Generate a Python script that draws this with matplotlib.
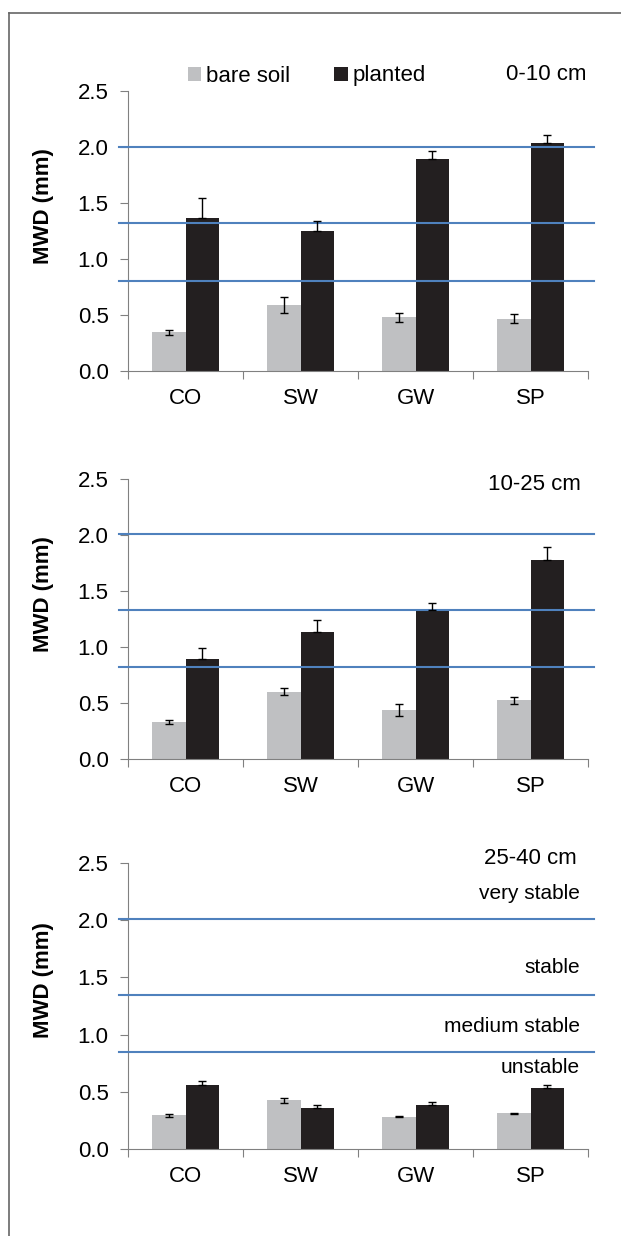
import numpy as np
import matplotlib

matplotlib.use("Agg")
import matplotlib.pyplot as plt
from matplotlib.lines import Line2D

plt.rcParams["font.family"] = ["Liberation Sans", "DejaVu Sans"]

# --- data ---
sites = ["CO", "SW", "GW", "SP"]
depths = ["0-10 cm", "10-25 cm", "25-40 cm"]

bare_mean = [
    [0.345, 0.59, 0.48, 0.465],
    [0.33, 0.60, 0.435, 0.525],
    [0.294, 0.425, 0.282, 0.311],
]
bare_err = [
    [0.02, 0.07, 0.04, 0.04],
    [0.02, 0.03, 0.055, 0.03],
    [0.012, 0.025, 0.004, 0.004],
]
planted_mean = [
    [1.365, 1.25, 1.89, 2.04],
    [0.895, 1.13, 1.33, 1.78],
    [0.56, 0.355, 0.387, 0.533],
]
planted_err = [
    [0.18, 0.09, 0.07, 0.07],
    [0.095, 0.11, 0.06, 0.11],
    [0.032, 0.03, 0.02, 0.028],
]
# stability class limits (blue lines) as drawn in each panel
class_lines = [
    [2.0, 1.32, 0.80],
    [2.01, 1.33, 0.82],
    [2.01, 1.35, 0.85],
]
class_names = ["very stable", "stable", "medium stable", "unstable"]
class_label_y = [2.23, 1.59, 1.075, 0.71]

W, H = 621, 1236
fig = plt.figure(figsize=(W / 100, H / 100), dpi=100)

# axes boxes in pixels: (top, bottom)
boxes = [(91, 371), (479, 759), (863, 1149)]
ax_left, ax_right = 128, 588
depth_label_pos = [(3.99, 2.65), (3.94, 2.455), (3.90, 2.54)]

bare_color = "#BFC0C2"
planted_color = "#231F20"
line_color = "#4F81BD"
axis_color = "#808080"
fs = 16

x = np.arange(len(sites)) + 0.5
w = 0.29

for i, (top, bottom) in enumerate(boxes):
    ax = fig.add_axes([ax_left / W, 1 - bottom / H, (ax_right - ax_left) / W, (bottom - top) / H])
    b1 = ax.bar(x - w / 2, bare_mean[i], w, color=bare_color, zorder=2)
    b2 = ax.bar(x + w / 2, planted_mean[i], w, color=planted_color, zorder=2)
    ax.errorbar(x - w / 2, bare_mean[i], yerr=bare_err[i], fmt="none", ecolor="black",
                elinewidth=1, capsize=3, capthick=1, zorder=4)
    # only the upper half shows above the dark bars
    ax.errorbar(x + w / 2, planted_mean[i], yerr=[np.zeros(4), planted_err[i]], fmt="none",
                ecolor="black", elinewidth=1, capsize=3, capthick=1, zorder=4)
    for yv in class_lines[i]:
        ax.plot([-0.078, 4.05], [yv, yv], color=line_color, lw=1.5, clip_on=False, zorder=3)

    ax.set_xlim(0, 4)
    ax.set_ylim(0, 2.5)
    ax.set_yticks(np.arange(0, 2.51, 0.5))
    ax.set_yticklabels([f"{v:.1f}" for v in np.arange(0, 2.51, 0.5)])
    ax.set_xticks(np.arange(0, 5))
    ax.set_xticklabels([])
    ax.set_xticks(x, minor=True)
    ax.set_xticklabels(sites, minor=True)
    ax.tick_params(axis="x", which="major", direction="out", length=6, width=0.8, color=axis_color)
    ax.tick_params(axis="x", which="minor", length=0, pad=12, labelsize=fs)
    ax.tick_params(axis="y", direction="out", length=6, width=0.8, color=axis_color, pad=8, labelsize=fs)
    for s in ["top", "right"]:
        ax.spines[s].set_visible(False)
    for s in ["left", "bottom"]:
        ax.spines[s].set_color(axis_color)
        ax.spines[s].set_linewidth(0.8)

    ax.set_ylabel("MWD (mm)", fontsize=fs, fontweight="bold")
    ax.yaxis.label.set_va("center")
    ax.yaxis.set_label_coords(-0.183, 0.59)

    dx, dy = depth_label_pos[i]
    ax.text(dx, dy, depths[i], ha="right", va="center", fontsize=fs, clip_on=False)

    if i == 0:
        leg = ax.legend([b1, b2], ["bare soil", "planted"], ncol=2, frameon=False,
                        loc="center left", bbox_to_anchor=(188 / W, 1 - 76 / H),
                        bbox_transform=fig.transFigure, fontsize=fs,
                        handlelength=0.6, handleheight=0.6, handletextpad=0.2,
                        columnspacing=2.0, borderpad=0, borderaxespad=0)
    if i == 2:
        for name, yv in zip(class_names, class_label_y):
            ax.text(3.93, yv, name, ha="right", va="center", fontsize=15)

# outer frame (top and left edges)
fig.add_artist(Line2D([9 / W, 1.0], [1 - 13 / H, 1 - 13 / H], color="#666666", lw=1.2))
fig.add_artist(Line2D([9 / W, 9 / W], [1 - 13 / H, 0.0], color="#666666", lw=1.2))

fig.savefig("out.png", dpi=100)
